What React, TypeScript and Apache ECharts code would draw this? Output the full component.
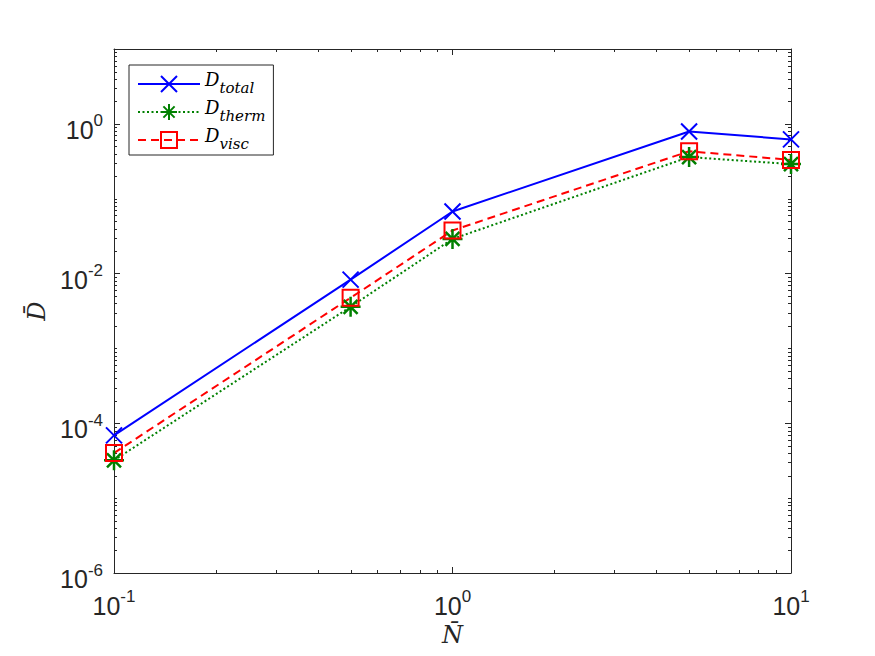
import React, { useEffect, useRef } from "react";
import * as echarts from "echarts";

// ---- data ----
const nBar = [0.1, 0.5, 1, 5, 10];
const dTotal = [6.9e-5, 8.3e-3, 0.0675, 0.79, 0.62];
const dTherm = [3.2e-5, 3.6e-3, 0.029, 0.36, 0.29];
const dVisc = [4.0e-5, 4.75e-3, 0.0376, 0.43, 0.33];
const seriesNames = ["D_total", "D_therm", "D_visc"];

// axis ranges
const xMin = 0.1;
const xMax = 10;
const yMin = 1e-6;
const yMax = 10;

// minor tick positions (2..9 x 10^n), plus unlabeled decades on y
function minorTicks(lo: number, hi: number, withDecades: boolean) {
  const out: number[] = [];
  for (let e = lo; e < hi; e++) {
    const base = Math.pow(10, e);
    if (withDecades && e % 2 !== 0) out.push(base);
    for (let m = 2; m <= 9; m++) out.push(+(m * base).toPrecision(6));
  }
  return out;
}
const xMinor = minorTicks(-1, 1, false);
const yMinor = minorTicks(-6, 1, true);

const AX = "#262626";
const SANS = "Liberation Sans";
const SERIF = "DejaVu Serif";

export default function App() {
  const ref = useRef<HTMLDivElement>(null);
  useEffect(() => {
    if (!ref.current) return;
    const chart = echarts.init(ref.current, null, { renderer: "svg" });

    const lineEl = (x1: number, y1: number, x2: number, y2: number) => ({
      type: "line",
      shape: { x1, y1, x2, y2 },
      style: { stroke: AX, lineWidth: 1 },
    });

    const xLabelRich = {
      b: { fontSize: 25, fontFamily: SANS, color: AX },
      s: { fontSize: 17, fontFamily: SANS, color: AX, padding: [0, 0, 18, 0] },
    };
    const yLabelRich = {
      b: { fontSize: 25, fontFamily: SANS, color: AX, padding: [12, 0, 0, 0] },
      s: { fontSize: 17, fontFamily: SANS, color: AX, padding: [0, 0, 6, 0] },
    };

    const option: any = {
      animation: false,
      backgroundColor: "#fff",
      grid: { left: 114, right: 84, top: 49, bottom: 83, containLabel: false },
      legend: {
        data: seriesNames,
        orient: "vertical",
        left: 129,
        top: 65,
        padding: [5, 8, 4, 8],
        itemWidth: 62,
        itemHeight: 20,
        itemGap: 3,
        backgroundColor: "#fff",
        borderColor: AX,
        borderWidth: 1,
        borderRadius: 0,
        selectedMode: false,
        formatter: (n: string) => `{d|D}{s|${n.split("_")[1]}}`,
        textStyle: {
          color: "#000",
          rich: {
            d: { fontFamily: SERIF, fontStyle: "italic", fontSize: 18, color: "#000", padding: [0, 0, 10, 0] },
            s: { fontFamily: SERIF, fontStyle: "italic", fontSize: 15, color: "#000", padding: [7, 0, 0, 0] },
          },
        },
      },
      xAxis: [
        {
          type: "log",
          logBase: 10,
          min: xMin,
          max: xMax,
          interval: 1,
          position: "bottom",
          name: "N\u0304",
          nameLocation: "middle",
          nameGap: 44,
          nameTextStyle: { fontFamily: SERIF, fontStyle: "italic", fontSize: 24, color: AX },
          axisLine: { show: true, lineStyle: { color: AX, width: 1 } },
          axisTick: { show: true, inside: true, length: 6, lineStyle: { color: AX } },
          minorTick: { show: false },
          splitLine: { show: false },
          axisLabel: {
            margin: 15,
            formatter: (v: number) => `{b|10}{s|${Math.round(Math.log10(v))}}`,
            rich: xLabelRich,
          },
        },
        {
          type: "log",
          logBase: 10,
          min: xMin,
          max: xMax,
          interval: 1,
          position: "top",
          axisLine: { show: true, lineStyle: { color: AX, width: 1 } },
          axisTick: { show: true, inside: true, length: 6, lineStyle: { color: AX } },
          splitLine: { show: false },
          axisLabel: { show: false },
        },
      ],
      yAxis: [
        {
          type: "log",
          logBase: 10,
          min: yMin,
          max: yMax,
          interval: 2,
          position: "left",
          name: "D\u0304",
          nameLocation: "middle",
          nameGap: 62,
          nameTextStyle: { fontFamily: SERIF, fontStyle: "italic", fontSize: 24, color: AX },
          axisLine: { show: true, lineStyle: { color: AX, width: 1 } },
          axisTick: { show: true, inside: true, length: 6, lineStyle: { color: AX } },
          minorTick: { show: false },
          splitLine: { show: false },
          axisLabel: {
            margin: 11,
            formatter: (v: number) => {
              const e = Math.round(Math.log10(v));
              if (e % 2 !== 0) return "";
              return `{b|10}{s|${e}}`;
            },
            rich: yLabelRich,
          },
        },
        {
          type: "log",
          logBase: 10,
          min: yMin,
          max: yMax,
          interval: 2,
          position: "right",
          axisLine: { show: true, lineStyle: { color: AX, width: 1 } },
          axisTick: { show: true, inside: true, length: 6, lineStyle: { color: AX } },
          splitLine: { show: false },
          axisLabel: { show: false },
        },
      ],
      series: [
        {
          type: "custom",
          silent: true,
          xAxisIndex: 0,
          yAxisIndex: 0,
          z: 1,
          data: xMinor.map((v) => [v, 1]),
          renderItem: (params: any, api: any) => {
            const p = api.coord([api.value(0), 1]);
            const cs = params.coordSys;
            const x = Math.round(p[0]) + 0.5;
            const yb = cs.y + cs.height;
            return {
              type: "group",
              children: [lineEl(x, yb, x, yb - 3), lineEl(x, cs.y, x, cs.y + 3)],
            };
          },
        },
        {
          type: "custom",
          silent: true,
          xAxisIndex: 0,
          yAxisIndex: 0,
          z: 1,
          data: yMinor.map((v) => [1, v]),
          renderItem: (params: any, api: any) => {
            const p = api.coord([1, api.value(1)]);
            const cs = params.coordSys;
            const y = Math.round(p[1]) + 0.5;
            const xr = cs.x + cs.width;
            return {
              type: "group",
              children: [lineEl(cs.x, y, cs.x + 3, y), lineEl(xr, y, xr - 3, y)],
            };
          },
        },
        {
          name: seriesNames[0],
          type: "line",
          data: nBar.map((x, i) => [x, dTotal[i]]),
          symbol: "path://M0,0L10,10M10,0L0,10",
          symbolSize: 16,
          lineStyle: { color: "#0000ff", width: 2, type: "solid" },
          itemStyle: { color: "transparent", borderColor: "#0000ff", borderWidth: 2 },
          emphasis: { disabled: true },
          z: 3,
        },
        {
          name: seriesNames[1],
          type: "line",
          data: nBar.map((x, i) => [x, dTherm[i]]),
          symbol: "path://M5,0V10M0,5H10M1.5,1.5L8.5,8.5M8.5,1.5L1.5,8.5",
          symbolSize: 20,
          lineStyle: { color: "#008000", width: 2, type: [2, 2.5] },
          itemStyle: { color: "transparent", borderColor: "#008000", borderWidth: 2.5 },
          emphasis: { disabled: true },
          z: 3,
        },
        {
          name: seriesNames[2],
          type: "line",
          data: nBar.map((x, i) => [x, dVisc[i]]),
          symbol: "path://M0,0H10V10H0Z",
          symbolSize: 16,
          lineStyle: { color: "#ff0000", width: 2, type: [8, 5] },
          itemStyle: { color: "transparent", borderColor: "#ff0000", borderWidth: 2 },
          emphasis: { disabled: true },
          z: 3,
        },
      ],
    };
    chart.setOption(option);
    return () => chart.dispose();
  }, []);

  return (
    <div
      ref={ref}
      style={{ position: "fixed", left: 0, top: 0, width: 875, height: 656, background: "#fff" }}
    />
  );
}
